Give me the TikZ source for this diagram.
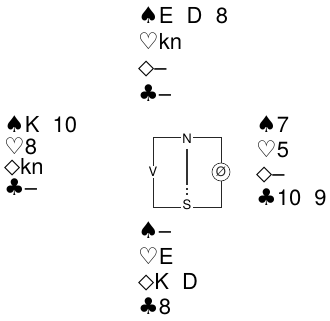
\documentclass[tikz,border=0pt]{standalone}
\usepackage{fontspec}
\setmainfont{TeX Gyre Heros}
\newfontfamily\suitfont{DejaVu Sans}
\newcommand\Spd{{\suitfont\fontsize{23}{23}\selectfont\char"2660}}
\newcommand\Hrt{{\suitfont\fontsize{23}{23}\selectfont\char"2661}}
\newcommand\Dia{\raisebox{1.5pt}{\suitfont\fontsize{21}{21}\selectfont\char"25C7}}
\newcommand\Clb{{\suitfont\fontsize{23}{23}\selectfont\char"2663}}
\newcommand\gap{\hspace{0.6em}}
\begin{document}
\begin{tikzpicture}[x=1pt,y=-1pt,
  hand/.style={anchor=west, inner sep=0pt, text height=14pt, text depth=2pt, font=\fontsize{22}{22}\selectfont},
  cmp/.style={font=\fontsize{13}{13}\selectfont, inner sep=1.5pt},
  ln/.style={line width=0.6pt, black!85}]
\useasboundingbox (0,0) rectangle (330,321);
% North
\node[hand] (n1) at (138,18) {\Spd E\gap D\gap 8};
\node[hand] (n2) at (138,44) {\Hrt kn};
\node[hand] (n3) at (138,70) {\Dia–};
\node[hand] (n4) at (138,96) {\Clb–};
% West
\node[hand] (w1) at (4,127) {\Spd K\gap 10};
\node[hand] (w2) at (4,148) {\Hrt 8};
\node[hand] (w3) at (4,169) {\Dia kn};
\node[hand] (w4) at (4,190) {\Clb–};
% East
\node[hand] (e1) at (256,127) {\Spd 7};
\node[hand] (e2) at (256,152) {\Hrt 5};
\node[hand] (e3) at (256,176) {\Dia–};
\node[hand] (e4) at (256,200) {\Clb 10\gap 9};
% South
\node[hand] (s1) at (138,232) {\Spd –};
\node[hand] (s2) at (138,258) {\Hrt E};
\node[hand] (s3) at (138,284) {\Dia K\gap D};
\node[hand] (s4) at (138,308) {\Clb 8};
% compass
\node[cmp] (N) at (187,139) {N};
\node[cmp] (S) at (187,205) {S};
\node[cmp] (V) at (153,172) {V};
\node[cmp,circle,draw,ln,minimum size=18pt,inner sep=0pt] (O) at (221,172) {Ø};
\coordinate (tl) at (153,137);
\coordinate (tr) at (221,137);
\coordinate (bl) at (153,207);
\coordinate (br) at (221,207);
\coordinate (c1) at (187,149);
\coordinate (c2) at (187,185);
\coordinate (c3) at (187,188);
\coordinate (c4) at (187,196);
\draw[ln] (N.west |- tl) -- (tl) -- (V.north);
\draw[ln] (V.south) -- (bl) -- (S.west |- bl);
\draw[ln] (S.east |- br) -- (br) -- (O.south);
\draw[ln] (O.north) -- (tr) -- (N.east |- tr);
\draw[line width=1.2pt, black!80] (c1) -- (c2);
\draw[line width=1.2pt, black!80, dash pattern=on 2pt off 3pt] (c3) -- (c4);
\end{tikzpicture}
\end{document}
